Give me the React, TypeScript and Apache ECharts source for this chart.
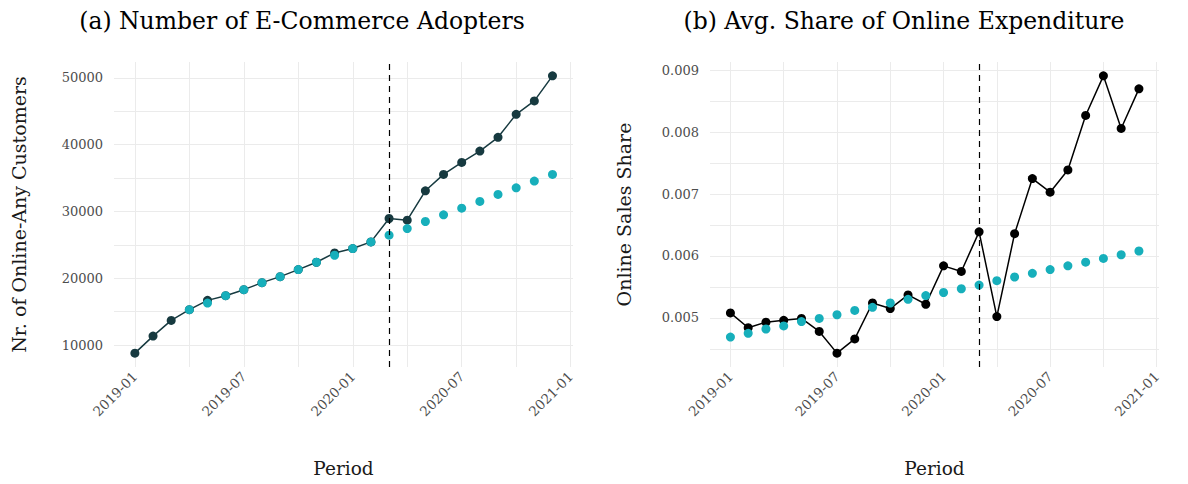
import React, { useEffect, useRef } from "react";
import * as echarts from "echarts";

const months = [
  "2019-01", "2019-02", "2019-03", "2019-04", "2019-05", "2019-06",
  "2019-07", "2019-08", "2019-09", "2019-10", "2019-11", "2019-12",
  "2020-01", "2020-02", "2020-03", "2020-04", "2020-05", "2020-06",
  "2020-07", "2020-08", "2020-09", "2020-10", "2020-11", "2020-12",
];

const adoptersActual = [
  8800, 11350, 13700, 15300, 16700, 17400, 18300, 19350, 20250, 21300, 22400, 23800,
  24450, 25450, 28950, 28700, 33100, 35550, 37350, 39050, 41100, 44550, 46550, 50300,
];
// counterfactual starts at 2019-04
const adoptersTrend = [
  null, null, null, 15300, 16300, 17400, 18300, 19350, 20250, 21300, 22400, 23450,
  24450, 25450, 26450, 27450, 28500, 29500, 30500, 31500, 32550, 33550, 34550, 35550,
];

const shareActual = [
  0.00508, 0.00484, 0.00493, 0.00496, 0.00499, 0.00478, 0.00443, 0.00466,
  0.00524, 0.00515, 0.00537, 0.00522, 0.00584, 0.00575, 0.00639, 0.00502,
  0.00636, 0.00725, 0.00703, 0.00739, 0.00827, 0.00891, 0.00806, 0.0087,
];
const shareTrend = [
  0.00469, 0.00475, 0.00482, 0.00487, 0.00494, 0.00499, 0.00505, 0.00512,
  0.00517, 0.00524, 0.0053, 0.00536, 0.00541, 0.00547, 0.00553, 0.0056,
  0.00566, 0.00572, 0.00578, 0.00584, 0.0059, 0.00596, 0.00602, 0.00608,
];

const breakMonth = "2020-03";
const xTickMonths = [0, 3, 6, 9, 12, 15, 18, 21, 24];
const xLabelMonths = [0, 6, 12, 18, 24];
const xLabelTexts = ["2019-01", "2019-07", "2020-01", "2020-07", "2021-01"];

const leftYTicks = [10000, 15000, 20000, 25000, 30000, 35000, 40000, 45000, 50000];
const leftYLabels = [10000, 20000, 30000, 40000, 50000];
const rightYTicks = [0.0045, 0.005, 0.0055, 0.006, 0.0065, 0.007, 0.0075, 0.008, 0.0085, 0.009];
const rightYLabels = [0.005, 0.006, 0.007, 0.008, 0.009];

const FONT = "'DejaVu Serif', serif";
const DARK_L = "#173a40";
const DARK_R = "#000000";
const TEAL = "#17afbb";
const GRID = "#ebebeb";

const toPairs = (arr: (number | null)[]) =>
  arr.map((v, i) => [i, v]).filter((p) => p[1] !== null);

function xAxis(gridIndex: number) {
  return {
    type: "value",
    gridIndex,
    min: -1.15,
    max: 24.13,
    name: "Period",
    nameLocation: "middle",
    nameGap: 92,
    nameTextStyle: { fontFamily: FONT, fontSize: 18.5, color: "#1a1a1a" },
    axisLine: { show: false },
    axisTick: { show: false, customValues: xTickMonths },
    splitLine: { show: true, lineStyle: { color: GRID, width: 1 } },
    axisLabel: {
      customValues: xLabelMonths,
      rotate: 45,
      margin: 7,
      fontFamily: FONT,
      fontSize: 13.5,
      color: "#4d4d4d",
      formatter: (v: number) => {
        const k = xLabelMonths.indexOf(Math.round(v));
        return k >= 0 ? xLabelTexts[k] : "";
      },
    },
  };
}

function yAxis(gridIndex: number, name: string, min: number, max: number, ticks: number[], labels: number[], fmt: (v: number) => string, gap: number) {
  return {
    type: "value",
    gridIndex,
    min,
    max,
    name,
    nameLocation: "middle",
    nameGap: gap,
    nameTextStyle: { fontFamily: FONT, fontSize: 19, color: "#1a1a1a" },
    axisLine: { show: false },
    axisTick: { show: false, customValues: ticks },
    splitLine: { show: true, lineStyle: { color: GRID, width: 1 } },
    axisLabel: {
      customValues: labels,
      margin: 11,
      fontFamily: FONT,
      fontSize: 13,
      color: "#4d4d4d",
      formatter: fmt,
    },
  };
}

export default function App() {
  const ref = useRef<HTMLDivElement>(null);
  useEffect(() => {
    document.body.style.margin = "0";
    if (!ref.current) return;
    const chart = echarts.init(ref.current, null, { renderer: "svg" });
    const breakIdx = months.indexOf(breakMonth);
    const markLine = {
      silent: true,
      symbol: "none",
      label: { show: false },
      lineStyle: { color: "#000", type: [6, 5], width: 1.2 },
      data: [{ xAxis: breakIdx }],
    };
    chart.setOption({
      animation: false,
      backgroundColor: "#ffffff",
      title: [
        {
          text: "(a) Number of E-Commerce Adopters",
          left: 297,
          top: 4,
          textAlign: "center",
          textStyle: { fontFamily: FONT, fontSize: 23.5, fontWeight: "normal", color: "#000" },
        },
        {
          text: "(b) Avg. Share of Online Expenditure",
          left: 899,
          top: 4,
          textAlign: "center",
          textStyle: { fontFamily: FONT, fontSize: 23.5, fontWeight: "normal", color: "#000" },
        },
      ],
      grid: [
        { left: 114, right: 615, top: 62, bottom: 117 },
        { left: 710, right: 29, top: 62, bottom: 117 },
      ],
      xAxis: [xAxis(0), xAxis(1)],
      yAxis: [
        yAxis(0, "Nr. of Online-Any Customers", 6725, 52375, leftYTicks, leftYLabels, (v: number) => String(v), 86),
        yAxis(1, "Online Sales Share", 0.004206, 0.009134, rightYTicks, rightYLabels, (v: number) => v.toFixed(3), 77),
      ],
      series: [
        {
          type: "line",
          xAxisIndex: 0,
          yAxisIndex: 0,
          data: toPairs(adoptersActual),
          symbol: "circle",
          symbolSize: 9,
          lineStyle: { color: DARK_L, width: 1.5 },
          itemStyle: { color: DARK_L },
          z: 2,
          markLine,
        },
        {
          type: "scatter",
          xAxisIndex: 0,
          yAxisIndex: 0,
          data: toPairs(adoptersTrend),
          symbolSize: 9,
          itemStyle: { color: TEAL, opacity: 1 },
          z: 3,
        },
        {
          type: "line",
          xAxisIndex: 1,
          yAxisIndex: 1,
          data: toPairs(shareActual),
          symbol: "circle",
          symbolSize: 9,
          lineStyle: { color: DARK_R, width: 1.5 },
          itemStyle: { color: DARK_R },
          z: 2,
          markLine,
        },
        {
          type: "scatter",
          xAxisIndex: 1,
          yAxisIndex: 1,
          data: toPairs(shareTrend),
          symbolSize: 9,
          itemStyle: { color: TEAL, opacity: 1 },
          z: 3,
        },
      ],
    });
    return () => chart.dispose();
  }, []);
  return <div ref={ref} style={{ width: 1188, height: 484 }} />;
}
